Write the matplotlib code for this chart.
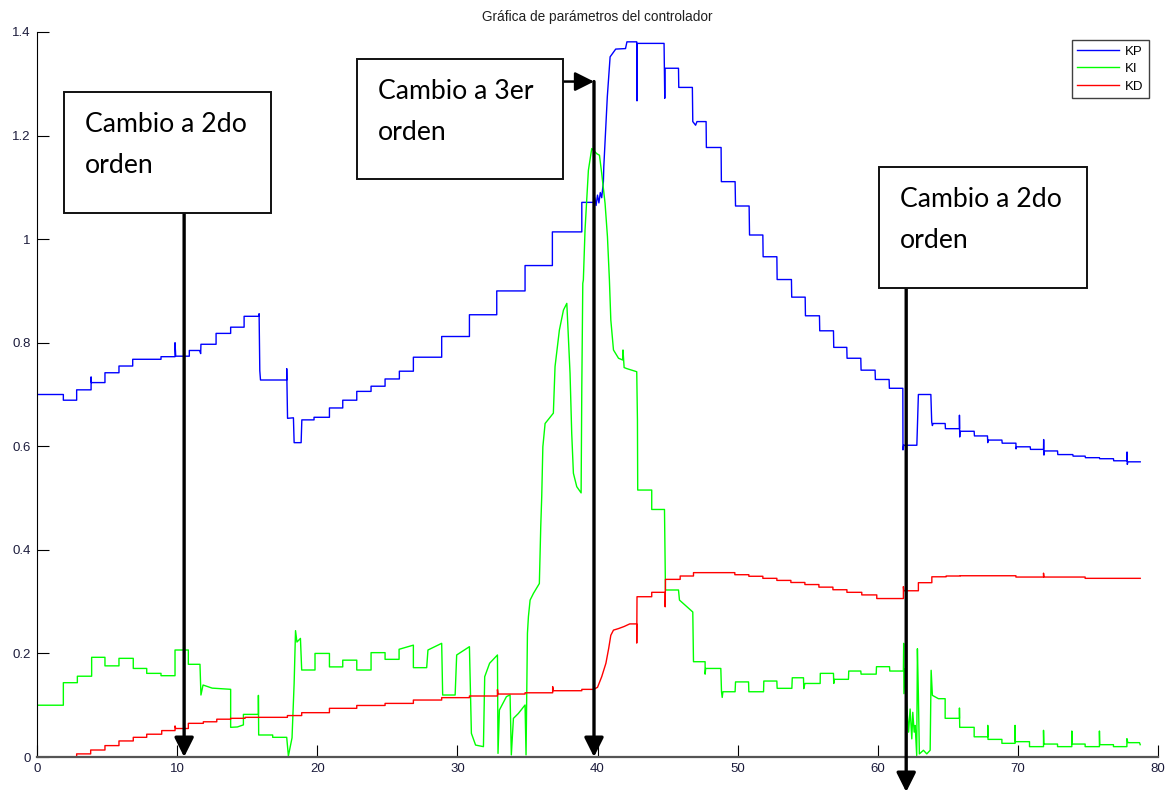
import matplotlib
matplotlib.use("Agg")
import matplotlib.pyplot as plt
from matplotlib.patches import Rectangle

# ---------------- data ----------------
kp_x = [0, 1.88, 1.88, 2.83, 2.83, 3.86, 3.86, 3.88, 4.85, 4.85, 5.85, 5.85, 6.83, 6.83, 8.85, 8.85,
        9.85, 9.85, 9.9, 10.87, 10.87, 11.6, 11.68, 11.7, 12.78, 12.78, 13.82, 13.82, 14.78, 14.78,
        15.85, 15.85, 15.9, 15.95, 17.82, 17.82, 17.88, 18.3, 18.35, 18.85, 18.9, 19.77, 19.77,
        20.87, 20.87, 21.82, 21.82, 22.82, 22.82, 23.84, 23.84, 24.84, 24.84, 25.86, 25.86, 26.86,
        26.86, 28.88, 28.88, 30.86, 30.86, 32.81, 32.81, 34.83, 34.83, 36.78, 36.78, 38.88, 38.88,
        39.71, 39.8, 39.9, 40.0, 40.1, 40.2, 40.3, 40.42, 40.45, 40.6, 40.7, 40.9, 41.3, 42.0, 42.1,
        42.8, 42.82, 42.84, 44.75, 44.8, 44.82, 45.78, 45.8, 46.77, 46.8, 47.0, 47.1, 47.75, 47.77,
        48.82, 48.84, 49.82, 49.85, 50.82, 50.85, 51.8, 51.82, 52.8, 52.82, 53.84, 53.86, 54.82,
        54.84, 55.84, 55.86, 56.84, 56.86, 57.79, 57.81, 58.79, 58.81, 59.81, 59.83, 60.81, 60.83,
        61.79, 61.8, 61.85, 62.79, 62.9, 63.79, 63.85, 63.9, 63.95, 64.81, 64.83, 65.83, 65.83,
        65.85, 65.87, 66.88, 66.9, 67.83, 67.85, 67.88, 68.86, 68.88, 69.86, 69.87, 69.9, 70.88,
        70.9, 71.83, 71.84, 71.86, 71.9, 72.83, 72.85, 73.92, 73.94, 74.8, 74.82, 75.82, 75.84,
        76.82, 76.84, 77.78, 77.79, 77.81, 77.85, 78.73]
kp_y = [0.700, 0.700, 0.689, 0.689, 0.709, 0.709, 0.734, 0.723, 0.723, 0.742, 0.742, 0.755, 0.755,
        0.768, 0.768, 0.773, 0.773, 0.800, 0.774, 0.774, 0.785, 0.785, 0.779, 0.797, 0.797, 0.818,
        0.818, 0.830, 0.830, 0.851, 0.851, 0.856, 0.746, 0.728, 0.728, 0.750, 0.654, 0.655, 0.607,
        0.607, 0.651, 0.651, 0.656, 0.656, 0.674, 0.674, 0.689, 0.689, 0.706, 0.706, 0.716, 0.716,
        0.730, 0.730, 0.745, 0.745, 0.772, 0.772, 0.812, 0.812, 0.854, 0.854, 0.900, 0.900, 0.949,
        0.949, 1.014, 1.014, 1.071, 1.071, 1.080, 1.065, 1.085, 1.070, 1.090, 1.080, 1.111, 1.140,
        1.223, 1.275, 1.352, 1.367, 1.368, 1.381, 1.381, 1.267, 1.378, 1.378, 1.272, 1.330, 1.330,
        1.293, 1.293, 1.227, 1.220, 1.227, 1.227, 1.177, 1.177, 1.111, 1.111, 1.064, 1.064, 1.008,
        1.008, 0.966, 0.966, 0.922, 0.922, 0.888, 0.888, 0.852, 0.852, 0.823, 0.823, 0.791, 0.791,
        0.770, 0.770, 0.747, 0.747, 0.729, 0.729, 0.712, 0.712, 0.593, 0.602, 0.602, 0.700, 0.700,
        0.647, 0.640, 0.644, 0.644, 0.634, 0.634, 0.660, 0.618, 0.629, 0.629, 0.620, 0.620, 0.607,
        0.612, 0.612, 0.606, 0.606, 0.595, 0.599, 0.599, 0.594, 0.594, 0.613, 0.583, 0.591, 0.591,
        0.584, 0.584, 0.581, 0.581, 0.578, 0.578, 0.576, 0.576, 0.572, 0.572, 0.589, 0.565, 0.570,
        0.570]

ki_x = [0, 1.88, 1.88, 2.88, 2.88, 3.9, 3.9, 4.85, 4.85, 5.85, 5.85, 6.87, 6.87, 7.83, 7.83, 8.85,
        8.85, 9.85, 9.85, 10.8, 10.8, 11.63, 11.7, 11.85, 12.5, 13.82, 13.82, 14.3, 14.73, 14.73,
        15.8, 15.8, 15.82, 16.82, 16.82, 17.82, 17.94, 18.2, 18.35, 18.45, 18.55, 18.8, 18.89,
        19.84, 19.84, 20.87, 20.87, 21.82, 21.82, 22.82, 22.82, 23.84, 23.84, 24.84, 24.84, 25.84,
        25.84, 26.86, 26.86, 27.81, 27.9, 28.88, 28.95, 29.84, 29.95, 30.86, 31.0, 31.3, 31.86,
        31.95, 32.3, 32.86, 32.9, 33.0, 33.5, 33.76, 33.85, 34.0, 34.35, 34.83, 34.9, 35.0, 35.07,
        35.19, 35.43, 35.85, 35.95, 36.02, 36.1, 36.26, 36.85, 36.97, 37.28, 37.57, 37.81, 38.04,
        38.16, 38.28, 38.52, 38.83, 38.88, 38.95, 38.99, 39.11, 39.35, 39.59, 39.95, 40.14, 40.3,
        40.54, 40.71, 40.85, 40.95, 41.14, 41.5, 41.8, 41.82, 41.9, 42.09, 42.8, 42.85, 42.87,
        43.87, 43.87, 44.78, 44.85, 45.78, 45.85, 46.8, 46.85, 47.68, 47.68, 47.72, 48.8, 48.85,
        48.9, 48.95, 49.82, 49.85, 50.78, 50.8, 51.85, 51.87, 52.8, 52.82, 53.87, 53.9, 54.7,
        54.72, 54.8, 55.89, 55.9, 56.84, 56.86, 56.9, 57.91, 57.93, 58.79, 58.81, 59.89, 59.91,
        60.84, 60.86, 61.83, 61.85, 61.87, 61.96, 62.03, 62.2, 62.31, 62.43, 62.5, 62.6, 62.67,
        62.74, 62.78, 62.83, 62.9, 62.97, 63.26, 63.5, 63.74, 63.81, 63.9, 64.33, 64.81, 64.81,
        65.83, 65.83, 65.85, 66.88, 66.88, 67.85, 67.85, 67.87, 68.86, 68.86, 69.8, 69.8, 69.82,
        70.83, 70.83, 71.83, 71.83, 71.85, 72.83, 72.83, 73.85, 73.85, 73.87, 74.8, 74.8, 75.82,
        75.82, 75.84, 76.82, 76.82, 77.78, 77.78, 77.85, 78.68, 78.73]
ki_y = [0.100, 0.100, 0.1435, 0.1435, 0.156, 0.156, 0.1925, 0.1925, 0.176, 0.176, 0.1905, 0.1905,
        0.171, 0.171, 0.1615, 0.1615, 0.157, 0.157, 0.2066, 0.2066, 0.179, 0.179, 0.1197, 0.139,
        0.133, 0.1307, 0.0573, 0.058, 0.062, 0.0823, 0.0823, 0.119, 0.0425, 0.0425, 0.038, 0.038,
        0.002, 0.037, 0.142, 0.244, 0.222, 0.229, 0.168, 0.168, 0.200, 0.200, 0.174, 0.174, 0.187,
        0.187, 0.168, 0.168, 0.2015, 0.2015, 0.1886, 0.1886, 0.208, 0.216, 0.1725, 0.1725, 0.2066,
        0.2195, 0.1197, 0.1197, 0.197, 0.213, 0.0457, 0.023, 0.020, 0.155, 0.181, 0.197, 0.007,
        0.0908, 0.1165, 0.120, 0.004, 0.0746, 0.084, 0.1004, 0.004, 0.239, 0.271, 0.303, 0.316,
        0.335, 0.445, 0.503, 0.599, 0.644, 0.664, 0.754, 0.8245, 0.863, 0.876, 0.741, 0.625, 0.548,
        0.522, 0.510, 0.715, 0.9146, 0.921, 1.0176, 1.133, 1.175, 1.165, 1.162, 1.127, 1.069,
        1.0047, 0.921, 0.844, 0.786, 0.770, 0.7666, 0.786, 0.752, 0.750, 0.744, 0.651, 0.5155,
        0.5155, 0.478, 0.478, 0.3225, 0.3225, 0.303, 0.280, 0.184, 0.184, 0.160, 0.171, 0.171,
        0.126, 0.115, 0.126, 0.126, 0.145, 0.145, 0.126, 0.126, 0.1467, 0.1467, 0.1326, 0.1326,
        0.153, 0.153, 0.132, 0.142, 0.142, 0.1615, 0.1615, 0.142, 0.150, 0.150, 0.166, 0.166, 0.160,
        0.160, 0.1744, 0.1744, 0.166, 0.166, 0.2195, 0.1223, 0.1705, 0.1126, 0.048, 0.0927, 0.035,
        0.0863, 0.048, 0.061, 0.0225, 0.003, 0.209, 0.119, 0.006, 0.013, 0.006, 0.013, 0.1674,
        0.119, 0.1126, 0.1126, 0.0747, 0.0747, 0.0946, 0.0573, 0.0573, 0.039, 0.039, 0.0611, 0.034,
        0.034, 0.0264, 0.0264, 0.0611, 0.0296, 0.0296, 0.020, 0.020, 0.0515, 0.025, 0.025, 0.020,
        0.020, 0.0502, 0.025, 0.025, 0.020, 0.020, 0.0502, 0.0238, 0.0238, 0.020, 0.020, 0.0354,
        0.0277, 0.0277, 0.0238]

kd_x = [0, 2.83, 2.83, 3.83, 3.83, 4.85, 4.85, 5.85, 5.85, 6.87, 6.87, 7.83, 7.83, 8.9, 8.9, 9.85,
        9.85, 9.9, 10.8, 10.8, 11.87, 11.87, 12.83, 12.83, 13.82, 13.82, 14.85, 14.85, 17.87, 17.87,
        18.89, 18.89, 20.87, 20.87, 22.82, 22.82, 24.84, 24.84, 26.86, 26.86, 28.88, 28.88, 30.86,
        30.86, 32.86, 32.86, 32.9, 34.83, 34.83, 36.8, 36.8, 36.85, 38.88, 38.88, 39.71, 40.0, 40.3,
        40.6, 40.8, 40.95, 41.14, 41.5, 41.9, 42.3, 42.8, 42.8, 42.82, 43.87, 43.87, 44.83, 44.83,
        44.85, 45.9, 45.9, 46.85, 46.85, 49.8, 49.8, 50.8, 50.8, 51.8, 51.8, 52.8, 52.8, 53.8, 53.8,
        54.8, 54.8, 55.8, 55.8, 56.8, 56.8, 57.8, 57.8, 58.86, 58.86, 59.93, 59.93, 61.83, 61.83,
        61.86, 62.9, 62.9, 63.86, 63.86, 64.88, 64.88, 65.88, 65.88, 69.86, 69.86, 71.83, 71.83,
        71.86, 74.8, 74.8, 78.73]
kd_y = [0.0, 0.0, 0.006, 0.006, 0.0135, 0.0135, 0.022, 0.022, 0.031, 0.031, 0.038, 0.038, 0.044,
        0.044, 0.051, 0.051, 0.060, 0.055, 0.055, 0.065, 0.065, 0.068, 0.068, 0.073, 0.073, 0.0747,
        0.0747, 0.0766, 0.0766, 0.080, 0.080, 0.0856, 0.0856, 0.094, 0.094, 0.0995, 0.0995, 0.1035,
        0.1035, 0.110, 0.110, 0.1146, 0.1146, 0.1178, 0.1178, 0.130, 0.1216, 0.1216, 0.124, 0.124,
        0.136, 0.128, 0.128, 0.1306, 0.1306, 0.1345, 0.155, 0.181, 0.210, 0.235, 0.245, 0.248,
        0.252, 0.257, 0.257, 0.220, 0.3095, 0.3095, 0.318, 0.318, 0.290, 0.343, 0.343, 0.3495,
        0.3495, 0.356, 0.356, 0.352, 0.352, 0.349, 0.349, 0.345, 0.345, 0.341, 0.341, 0.337, 0.337,
        0.333, 0.333, 0.328, 0.328, 0.323, 0.323, 0.318, 0.318, 0.313, 0.313, 0.306, 0.306, 0.329,
        0.321, 0.321, 0.3366, 0.3366, 0.348, 0.348, 0.3495, 0.3495, 0.350, 0.350, 0.3475, 0.3475,
        0.355, 0.3475, 0.3475, 0.345, 0.345]

series_labels = ["KP", "KI", "KD"]
title_text = "Gráfica de parámetros del controlador"
x_ticks = [0, 10, 20, 30, 40, 50, 60, 70, 80]
y_ticks = [0, 0.2, 0.4, 0.6, 0.8, 1.0, 1.2, 1.4]
y_ticklabels = ["0", "0.2", "0.4", "0.6", "0.8", "1", "1.2", "1.4"]

# annotations: (text lines, event x in data units)
note_texts = ["Cambio a 2do\norden", "Cambio a 3er\norden", "Cambio a 2do\norden"]
note_event_x = [10.5, 39.75, 62.03]

# ---------------- figure ----------------
W, H = 1166, 792
fig = plt.figure(figsize=(W / 100, H / 100), dpi=100)
ax = fig.add_axes([37 / W, 1 - 757 / H, (1158 - 37) / W, (757 - 32) / H])

ax.plot(kp_x, kp_y, color="#0000ff", lw=1.0, label=series_labels[0])
ax.plot(ki_x, ki_y, color="#00ff00", lw=1.0, label=series_labels[1])
ax.plot(kd_x, kd_y, color="#ff0000", lw=1.0, label=series_labels[2])

ax.set_xlim(0, 80)
ax.set_ylim(0, 1.4)
ax.set_xticks(x_ticks)
ax.set_yticks(y_ticks)
ax.set_yticklabels(y_ticklabels)
tick_col = "#1c1c3c"
ax.tick_params(direction="in", length=8.4, width=0.8, labelsize=9.5, colors="black",
               labelcolor=tick_col, pad=4.5)
for s in ["top", "right"]:
    ax.spines[s].set_visible(False)
ax.spines["left"].set_color("black")
ax.spines["left"].set_linewidth(0.8)
ax.spines["bottom"].set_color("#555555")
ax.spines["bottom"].set_linewidth(1.6)
for lab in ax.get_xticklabels() + ax.get_yticklabels():
    lab.set_family("Liberation Sans")

ax.set_title(title_text, fontsize=9.8, family="Liberation Sans", color="#202020", pad=8)

leg = ax.legend(loc="upper right", bbox_to_anchor=(1149 / W, 1 - 40 / H),
                bbox_transform=fig.transFigure, borderaxespad=0, fancybox=False,
                edgecolor="#404040", framealpha=1, handlelength=3.2, handletextpad=0.45,
                labelspacing=0.4, borderpad=0.4, prop={"family": "Liberation Sans", "size": 9.5})
leg.get_frame().set_linewidth(1.0)

# ---------------- annotation boxes and arrows ----------------
def fx(px):
    return px / W

def fy(py):
    return 1 - py / H

box_px = [(64, 92, 271, 213), (357, 59, 563, 179), (879, 167, 1087, 288)]
for (l, t, r, b), txt in zip(box_px, note_texts):
    fig.add_artist(Rectangle((fx(l), fy(b)), fx(r) - fx(l), fy(t) - fy(b),
                             transform=fig.transFigure, facecolor="white",
                             edgecolor="#111111", lw=1.4, zorder=5))
    line1, line2 = txt.split("\n")
    fig.text(fx(l + 21), fy(t + 40), line1, fontsize=19.2, family="Lato", va="baseline",
             ha="left", color="black", zorder=6)
    fig.text(fx(l + 21), fy(t + 81), line2, fontsize=19.2, family="Lato", va="baseline",
             ha="left", color="black", zorder=6)

def y_of(py):
    return (757 - py) / 517.9

def x_of(px):
    return (px - 37) / (1121 / 80)

arrow_kw = dict(arrowstyle="-|>,head_length=0.58,head_width=0.29", color="black", lw=2.4,
                shrinkA=0, shrinkB=0, mutation_scale=20)

# arrow 1
ax.annotate("", xy=(note_event_x[0], 0.0), xytext=(note_event_x[0], y_of(213)),
            arrowprops=arrow_kw, annotation_clip=False, zorder=7)
# arrow 2: horizontal then vertical
ax.annotate("", xy=(note_event_x[1], y_of(81.5)), xytext=(x_of(563), y_of(81.5)),
            arrowprops=dict(arrow_kw, lw=1.8), annotation_clip=False, zorder=7)
ax.annotate("", xy=(note_event_x[1], 0.0), xytext=(note_event_x[1], y_of(81.5)),
            arrowprops=arrow_kw, annotation_clip=False, zorder=7)
# arrow 3 (goes below the axis)
ax.annotate("", xy=(note_event_x[2], y_of(792)), xytext=(note_event_x[2], y_of(288)),
            arrowprops=arrow_kw, annotation_clip=False, zorder=7)

fig.savefig("out.png", dpi=100)
